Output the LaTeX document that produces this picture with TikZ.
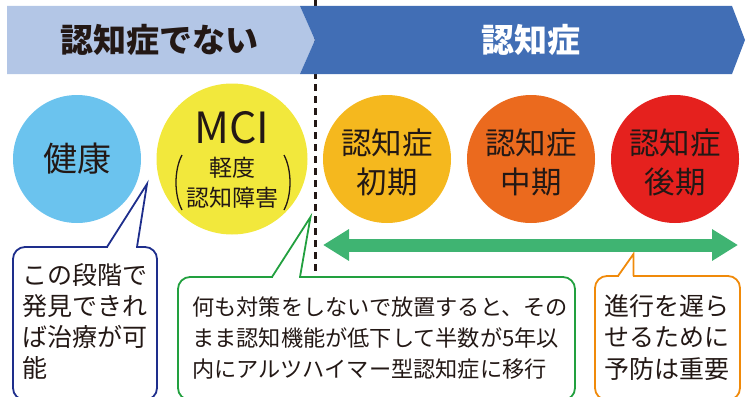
\documentclass[tikz,border=0pt]{standalone}
\usepackage{fontspec}
\setmainfont{Noto Sans CJK JP}
\usetikzlibrary{arrows.meta}
\definecolor{txt}{HTML}{231815}
\definecolor{bandlight}{HTML}{B3C6E6}
\definecolor{banddark}{HTML}{416EB5}
\definecolor{cHealth}{HTML}{6BC3EE}
\definecolor{cMci}{HTML}{F2E83C}
\definecolor{cEarly}{HTML}{F5B81E}
\definecolor{cMid}{HTML}{EB6A1E}
\definecolor{cLate}{HTML}{E5211E}
\definecolor{arrowgreen}{HTML}{3FB472}
\definecolor{calloutblue}{HTML}{1E2E8C}
\definecolor{calloutgreen}{HTML}{22A03F}
\definecolor{calloutorange}{HTML}{F08A0A}
\tikzset{
  stage/.style={circle, inner sep=0pt, minimum size=128pt},
  ctext/.style={text=txt, inner sep=0pt, font=\fontsize{30.5}{30.5}\selectfont},
  boxline/.style={line width=1.8pt, rounded corners=12pt},
  ptrline/.style={line width=1.8pt, line join=miter},
  bigtxt/.style={text=txt, inner sep=0pt, anchor=west, font=\fontsize{25}{25}\selectfont},
  smalltxt/.style={text=txt, inner sep=0pt, anchor=west, font=\fontsize{22.2}{22.2}\selectfont},
}
\begin{document}
\begin{tikzpicture}[x=1pt,y=-1pt]
\useasboundingbox (0,0) rectangle (751,396);
\clip (0,0) rectangle (751,396);
% dashed divider
\coordinate (dtop) at (315,0);
\coordinate (dbot) at (315,276);
\draw[txt, line width=3pt, dash pattern=on 7pt off 5pt] (dtop) -- (dbot);
% header bands
\fill[bandlight] (7,6) -- (300,6) -- (315,40) -- (300,74) -- (7,74) -- cycle;
\fill[banddark] (300,6) -- (732,6) -- (745,40) -- (732,74) -- (300,74) -- (315,40) -- cycle;
\node[text=txt, inner sep=0pt, font=\bfseries\fontsize{33}{33}\selectfont] (hnot) at (159,40) {認知症でない};
\node[text=white, inner sep=0pt, font=\bfseries\fontsize{33}{33}\selectfont] (hdem) at (531,40) {認知症};
% circles
\node[stage, fill=cHealth] (health) at (77,159) {};
\node[stage, fill=cMci, minimum size=151pt] (mci) at (232,159) {};
\node[stage, fill=cEarly] (early) at (387,159) {};
\node[stage, fill=cMid] (mid) at (531,159) {};
\node[stage, fill=cLate] (late) at (675,159) {};
\node[text=txt, inner sep=0pt, font=\fontsize{34}{34}\selectfont] (thealth) at (77,159) {健康};
\node[text=txt, inner sep=0pt, font=\fontsize{43}{43}\selectfont] (tmci) at (232,128) {MCI};
\node[text=txt, inner sep=0pt, font=\fontsize{23}{23}\selectfont] (tmci2) at (232,168) {軽度};
\node[text=txt, inner sep=0pt, font=\fontsize{23}{23}\selectfont] (tmci3) at (232,198) {認知障害};
\draw[txt, line width=1.3pt] (182,155) .. controls (174,170) and (174,195) .. (182,210);
\draw[txt, line width=1.3pt] (284,155) .. controls (292,170) and (292,195) .. (284,210);
\foreach \n/\x/\b in {early/387/初期, mid/531/中期, late/675/後期} {
  \node[ctext] (\n1) at (\x,143) {認知症};
  \node[ctext] (\n2) at (\x,182) {\b};
}
% callout blue
\draw[calloutblue, boxline] (13,247) rectangle (157,400);
\fill[white] (108.3,250) rectangle (135.7,244);
\coordinate (tipb) at (147,184);
\draw[calloutblue, ptrline] (107,247) -- (tipb) -- (137,247);
\node[bigtxt] (b1) at (22,275) {この段階で};
\node[bigtxt] (b2) at (22,306) {発見できれ};
\node[bigtxt] (b3) at (22,337) {ば治療が可};
\node[bigtxt] (b4) at (22,368) {能};
% callout green
\draw[calloutgreen, boxline] (178,277) rectangle (575,400);
\fill[white] (273.3,280) rectangle (298.7,274);
\coordinate (tipg) at (310.5,217);
\draw[calloutgreen, ptrline] (272,277) -- (tipg) -- (300,277);
\node[smalltxt] (g1) at (192,307) {何も対策をしないで放置すると、その};
\node[smalltxt] (g2) at (192,338) {まま認知機能が低下して半数が5年以};
\node[smalltxt] (g3) at (192,369) {内にアルツハイマー型認知症に移行};
% callout orange
\draw[calloutorange, boxline] (595,276) rectangle (740,400);
\fill[white] (619.3,279) rectangle (632.5,273);
\coordinate (tipo) at (633.5,254);
\draw[calloutorange, ptrline] (618,276) -- (tipo) -- (633.5,276);
\node[bigtxt] (o1) at (604,306) {進行を遅ら};
\node[bigtxt] (o2) at (604,337) {せるために};
\node[bigtxt] (o3) at (604,369) {予防は重要};
% green double arrow
\coordinate (al) at (323,245);
\coordinate (ar) at (738,245);
\draw[arrowgreen, line width=13pt, {Triangle[length=26pt,width=30pt]}-{Triangle[length=26pt,width=30pt]}] (al) -- (ar);
\end{tikzpicture}
\end{document}
